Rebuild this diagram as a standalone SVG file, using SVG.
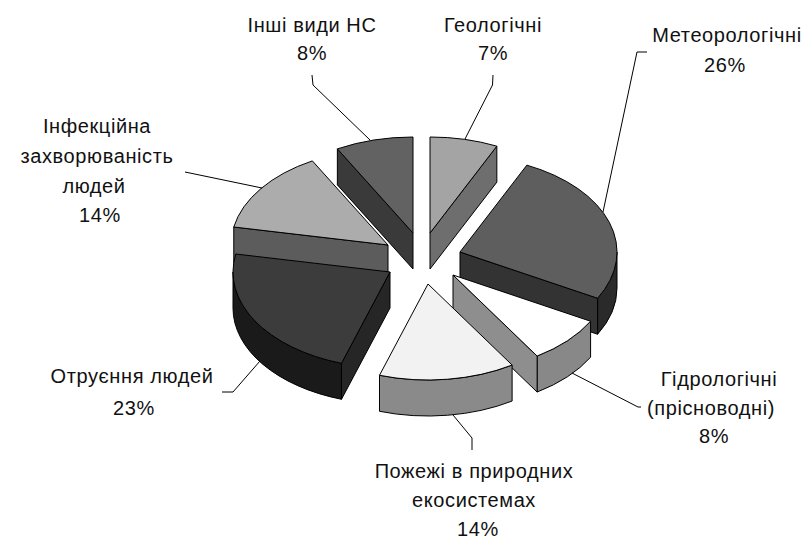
<svg xmlns="http://www.w3.org/2000/svg" width="806" height="540" viewBox="0 0 806 540">
<style>
.e{stroke:#000;stroke-width:1;stroke-linejoin:round}
.l{fill:none;stroke:#000;stroke-width:1}
text{font-family:"Liberation Sans",Arial,sans-serif;font-size:20px;fill:#111;text-anchor:middle;letter-spacing:0.6px}
</style>
<rect width="806" height="540" fill="#fff"/>
<g id="slice-others">
<path class="e" fill="#3a3a3a" d="M413,233 L337.36,148.88 L337.36,184.88 L413,269 Z"/>
<path class="e" fill="#626262" d="M413,233 L337.36,148.88 A157 96 0 0 1 413,137 Z"/>
</g>
<g id="slice-geo">
<path class="e" fill="#6e6e6e" d="M430,233 L496.85,146.14 L496.85,182.14 L430,269 Z"/>
<path class="e" fill="#a4a4a4" d="M430,233 L430,137 A157 96 0 0 1 496.85,146.14 Z"/>
</g>
<g id="slice-infection">
<path class="e" fill="#5c5c5c" d="M388,245 L233.78,227.01 L233.78,263.01 L388,281 Z"/>
<path class="e" fill="#acacac" d="M388,245 L233.78,227.01 A157 96 0 0 1 312.36,160.88 Z"/>
</g>
<g id="slice-meteo">
<path class="e" fill="#2a2a2a" d="M617,252 A157 96 0 0 1 597.58,298.25 L597.58,334.25 A157 96 0 0 0 617,288 Z"/>
<path class="e" fill="#333" d="M460,252 L597.58,298.25 L597.58,334.25 L460,288 Z"/>
<path class="e" fill="#5e5e5e" d="M460,252 L526.85,165.14 A157 96 0 0 1 597.58,298.25 Z"/>
</g>
<g id="slice-poison">
<path class="e" fill="#1a1a1a" d="M341.49,363.3 A157 96 0 0 1 233,272 L233,308 A157 96 0 0 0 341.49,399.3 Z"/>
<path class="e" fill="#262626" d="M390,272 L341.49,363.3 L341.49,399.3 L390,308 Z"/>
<path class="e" fill="#3c3c3c" d="M390,272 L341.49,363.3 A157 96 0 0 1 235.78,254.01 Z"/>
</g>
<g id="slice-hydro">
<path class="e" fill="#888" d="M590.58,321.25 A157 96 0 0 1 537.12,356.05 L537.12,392.05 A157 96 0 0 0 590.58,357.25 Z"/>
<path class="e" fill="#8e8e8e" d="M453,275 L537.12,356.05 L537.12,392.05 L453,311 Z"/>
<path class="e" fill="#fff" d="M453,275 L590.58,321.25 A157 96 0 0 1 537.12,356.05 Z"/>
</g>
<g id="slice-fires">
<path class="e" fill="#8a8a8a" d="M512.12,365.05 A157 96 0 0 1 379.49,375.3 L379.49,411.3 A157 96 0 0 0 512.12,401.05 Z"/>
<path class="e" fill="#f2f2f2" d="M428,284 L512.12,365.05 A157 96 0 0 1 379.49,375.3 Z"/>
</g>
<g id="connectors">
<polyline class="l" points="312,75 313,85 370,140"/>
<polyline class="l" points="493,75 492.5,85 465,139"/>
<polyline class="l" points="647,52 637,52 603,212"/>
<polyline class="l" points="572,373 638,407 641,407"/>
<polyline class="l" points="453,415 472,438 472,450"/>
<polyline class="l" points="260,361 233,392 222,392"/>
<polyline class="l" points="185,172 262,188"/>
</g>
<g id="label-others"><text x="312" y="32">Інші види НС</text><text x="312" y="60">8%</text></g>
<g id="label-geo"><text x="493" y="32">Геологічні</text><text x="493" y="60">7%</text></g>
<g id="label-meteo"><text x="727" y="42">Метеорологічні</text><text x="725" y="72">26%</text></g>
<g id="label-hydro"><text x="719" y="386">Гідрологічні</text><text x="711" y="415">(прісноводні)</text><text x="714" y="443">8%</text></g>
<g id="label-fires"><text x="474" y="478">Пожежі в природних</text><text x="474" y="507">екосистемах</text><text x="478" y="536">14%</text></g>
<g id="label-poison"><text x="132" y="383">Отруєння людей</text><text x="134" y="415">23%</text></g>
<g id="label-infection"><text x="97" y="133">Інфекційна</text><text x="97" y="163">захворюваність</text><text x="94" y="193">людей</text><text x="100" y="222">14%</text></g>
</svg>
